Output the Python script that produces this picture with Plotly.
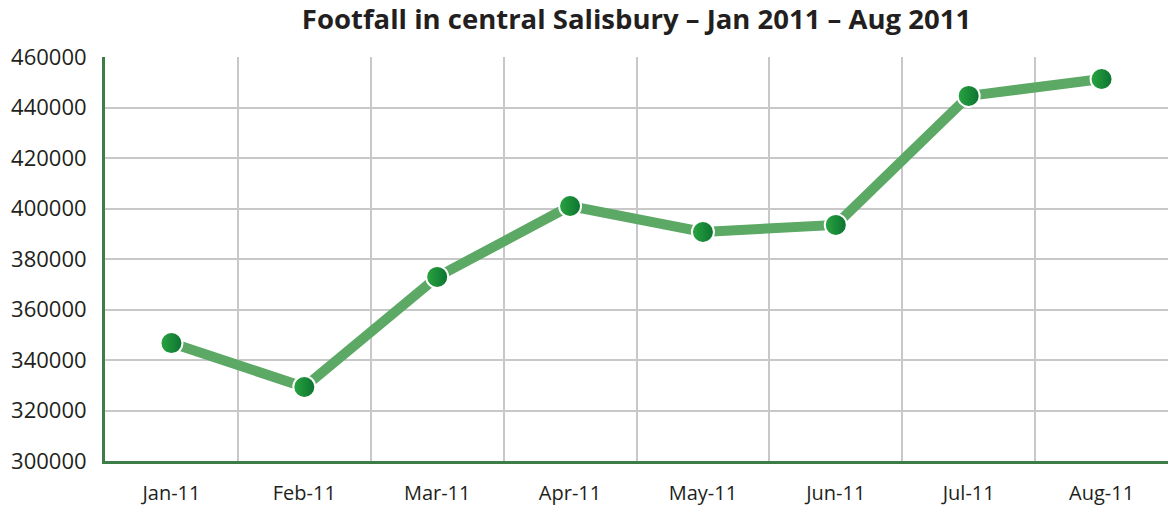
import plotly.graph_objects as go

months = ["Jan-11", "Feb-11", "Mar-11", "Apr-11", "May-11", "Jun-11", "Jul-11", "Aug-11"]
footfall = [346700, 329300, 372900, 401000, 390700, 393500, 444600, 451300]
y_ticks = [300000, 320000, 340000, 360000, 380000, 400000, 420000, 440000, 460000]

x_pos = list(range(len(months)))
boundaries = [i + 0.5 for i in range(-1, len(months))]

fig = go.Figure()
fig.add_trace(go.Scatter(
    x=x_pos, y=footfall, mode="lines",
    line=dict(color="#5ca865", width=10),
    hoverinfo="skip", showlegend=False, cliponaxis=False,
))
fig.add_trace(go.Scatter(
    x=x_pos, y=footfall, mode="markers",
    marker=dict(size=22, color="#2aa540",
                gradient=dict(type="horizontal", color="#0b7230"),
                line=dict(color="white", width=2)),
    showlegend=False, cliponaxis=False,
))

fig.update_layout(
    width=1173, height=508,
    margin=dict(l=105, r=5, t=57, b=47, autoexpand=False),
    paper_bgcolor="white", plot_bgcolor="white",
    font=dict(family="Open Sans", color="#231f20"),
    title=dict(text="<b>Footfall in central Salisbury – Jan 2011 – Aug 2011</b>",
               x=0.5, xref="paper", xanchor="center", y=0.962, yanchor="middle",
               font=dict(size=27.5, family="Open Sans", color="#231f20")),
)
fig.update_xaxes(
    range=[-0.5, len(months) - 0.5],
    tickvals=x_pos, ticktext=months,
    showgrid=False, zeroline=False, automargin=False,
    showline=True, linecolor="#3e7d47", linewidth=3,
    ticks="", ticklabelstandoff=12,
    tickfont=dict(size=20, family="Open Sans", color="#231f20"),
    minor=dict(tickvals=boundaries, showgrid=True, gridcolor="#c8c8c8", gridwidth=2, ticks=""),
)
fig.update_yaxes(
    range=[300000, 460000],
    tickvals=y_ticks, ticktext=[str(v) for v in y_ticks],
    showgrid=True, gridcolor="#c8c8c8", gridwidth=2, zeroline=False, automargin=False,
    showline=True, linecolor="#3e7d47", linewidth=3,
    ticks="", ticklabelstandoff=11,
    tickfont=dict(size=22, family="Open Sans", color="#231f20"),
)
fig.write_html(
    "out.html",
    config={"displayModeBar": False},
    post_script="document.body.style.margin='0';document.body.style.overflow='hidden';",
)
